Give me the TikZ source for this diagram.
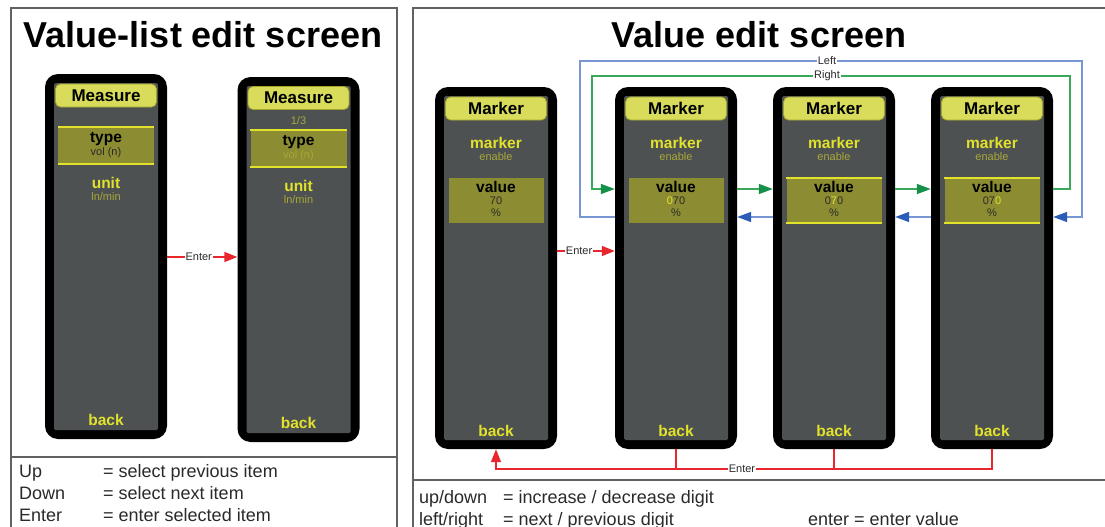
\documentclass[tikz,border=0pt]{standalone}
\usepackage{fontspec}
\setmainfont{Liberation Sans}
\usetikzlibrary{arrows.meta,calc}
\definecolor{scr}{HTML}{4D5152}
\definecolor{hdr}{HTML}{D8DC5A}
\definecolor{hdrline}{HTML}{A3A52A}
\definecolor{selc}{HTML}{8C8C32}
\definecolor{ylw}{HTML}{E2E22C}
\definecolor{olv}{HTML}{A8A838}
\definecolor{redc}{HTML}{E8262E}
\definecolor{grnl}{HTML}{3AA85A}
\definecolor{grnh}{HTML}{15904A}
\definecolor{blul}{HTML}{7896D4}
\definecolor{bluh}{HTML}{2A5CB8}
\definecolor{framec}{HTML}{5F6163}
\definecolor{txt}{HTML}{2A2A2A}
\newcommand\fs[1]{\fontsize{#1}{#1}\selectfont}
\tikzset{
  phone/.style={fill=black, draw=none, rounded corners=13pt, minimum width=122pt, inner sep=0pt},
  screen/.style={fill=scr, draw=none, rounded corners=1.5pt, minimum width=104pt, inner sep=0pt},
  hdrbox/.style={fill=hdr, draw=hdrline, line width=0.8pt, rounded corners=5pt, minimum width=101pt, minimum height=23pt, inner sep=0pt, font=\fs{17}\bfseries, text=black},
  selbox/.style={fill=selc, draw=none, inner sep=0pt},
  selline/.style={draw=ylw, line width=1.6pt},
  itemt/.style={font=\fs{15.5}\bfseries, text=black, inner sep=0pt},
  subt/.style={font=\fs{11}, text=txt, inner sep=0pt},
  lbl/.style={font=\fs{11}, text=txt, fill=white, inner sep=1pt},
  legend/.style={font=\fs{18}, text=txt, inner sep=0pt, anchor=base west},
  titlet/.style={font=\fs{36}\bfseries, text=black, inner sep=0pt, anchor=base},
  framel/.style={draw=framec, line width=2pt},
  enter/.style={draw=redc, line width=1.5pt, -{Triangle[length=13pt,width=10pt,fill=redc]}},
  enterline/.style={draw=redc, line width=1.5pt},
  rgt/.style={draw=grnl, line width=1.5pt, -{Triangle[length=14pt,width=10pt,fill=grnh,color=grnh]}},
  lft/.style={draw=blul, line width=1.5pt, -{Triangle[length=14pt,width=10pt,fill=bluh,color=bluh]}},
}
\newcommand\rphone[4]{%
  \node[phone, minimum height=362pt] (#1) at (#2,268) {};
  \node[screen, minimum height=344pt] (#1s) at (#1) {};
  \node[hdrbox] (#1h) at (#2,108.5) {Marker};
  \node[itemt, text=ylw] (#1m) at (#2,143) {marker};
  \node[subt, text=olv] (#1e) at (#2,157) {enable};
  \node[selbox, minimum width=95pt, minimum height=45pt] (#1v) at (#2,200.5) {};
  #4
  \node[itemt] (#1vt) at (#2,187) {value};
  \node[subt] (#1d) at (#2,200.5) {#3};
  \node[subt] (#1p) at (#2,213) {\%};
  \node[itemt, text=ylw] (#1b) at (#2,431) {back};
}
\newcommand\vlines[1]{%
  \draw[selline] (#1v.north west) -- (#1v.north east);
  \draw[selline] (#1v.south west) -- (#1v.south east);
}
\begin{document}
\begin{tikzpicture}[x=1pt,y=-1pt]
\useasboundingbox (0,0) rectangle (1105,527);
\fill[white] (0,0) rectangle (1105,527);

% frames
\draw[framel] (11,527) |- (397,8) -- (397,527);
\draw[framel] (11,457) -- (397,457);
\draw[framel] (413,527) |- (1105,8);
\draw[framel] (413,480) -- (1105,480);

% titles
\node[titlet] (t1) at (203,48) {Value-list edit screen};
\node[titlet] (t2) at (759,48) {Value edit screen};

% ---------- left: value-list edit screen
\node[phone, minimum height=365pt] (m1) at (106,256.5) {};
\node[screen, minimum height=347pt] (m1s) at (m1) {};
\node[hdrbox] (m1h) at (106,95.5) {Measure};
\node[selbox, minimum width=96pt, minimum height=37pt] (m1v) at (106,145.5) {};
\vlines{m1}
\node[itemt] (m1t) at (106,139) {type};
\node[subt] (m1tv) at (106,153) {vol (n)};
\node[itemt, text=ylw] (m1u) at (106,183) {unit};
\node[subt, text=olv] (m1uv) at (106,197) {ln/min};
\node[itemt, text=ylw] (m1b) at (106,420) {back};

\node[phone, minimum height=365pt] (m2) at (298.5,259.5) {};
\node[screen, minimum height=347pt] (m2s) at (m2) {};
\node[hdrbox] (m2h) at (298.5,98) {Measure};
\node[subt, text=olv] (m2n) at (298.5,121) {1/3};
\node[selbox, minimum width=96pt, minimum height=37pt] (m2v) at (298.5,148.5) {};
\vlines{m2}
\node[itemt] (m2t) at (298.5,142) {type};
\node[subt, text=olv] (m2tv) at (298.5,156) {vol (n)};
\node[itemt, text=ylw] (m2u) at (298.5,186) {unit};
\node[subt, text=olv] (m2uv) at (298.5,200) {ln/min};
\node[itemt, text=ylw] (m2b) at (298.5,423) {back};

\coordinate (ly) at (0,257);
\draw[enter] (m1.east |- ly) -- (m2.west |- ly) node[lbl, pos=0.45] (el1) {Enter};

\node[legend] (u1) at (19,477) {Up};
\node[legend] (u2) at (103,477) {= select previous item};
\node[legend] (d1) at (19,499) {Down};
\node[legend] (d2) at (103,499) {= select next item};
\node[legend] (e1) at (19,521) {Enter};
\node[legend] (e2) at (103,521) {= enter selected item};

% ---------- right: value edit screen
\rphone{pA}{496}{70}{}
\rphone{pB}{676}{{\color{ylw}0}70}{}
\rphone{pC}{834}{0{\color{ylw}7}0}{\vlines{pC}}
\rphone{pD}{992}{07{\color{ylw}0}}{\vlines{pD}}

\coordinate (gy) at (0,189);
\coordinate (by) at (0,217);
\coordinate (ey) at (0,251);
\coordinate (gtr) at (1070,76);
\coordinate (gtl) at (592,76);
\coordinate (btl) at (580,61);
\coordinate (btr) at (1082,61);

% Right (green)
\draw[rgt] (pD.east |- gy) -| (gtr) -- (gtl) |- (pB.west |- gy);
\draw[rgt] (pB.east |- gy) -- (pC.west |- gy);
\draw[rgt] (pC.east |- gy) -- (pD.west |- gy);
% Left (blue)
\draw[lft] (pB.west |- by) -| (btl) -- (btr) |- (pD.east |- by);
\draw[lft] (pC.west |- by) -- (pB.east |- by);
\draw[lft] (pD.west |- by) -- (pC.east |- by);
\node[lbl] (lleft) at (827,61) {Left};
\node[lbl] (lright) at (827,76) {Right};

% Enter (red)
\draw[enter] (pA.east |- ey) -- (pB.west |- ey) node[lbl, pos=0.38] (el2) {Enter};
\draw[enter] (pD.south) -- ++(0,20) -| (pA.south);
\draw[enterline] (pB.south) -- ++(0,20);
\draw[enterline] (pC.south) -- ++(0,20);
\node[lbl] (el3) at (742,469) {Enter};

\node[legend] (r1) at (419,503) {up/down};
\node[legend] (r2) at (503,503) {= increase / decrease digit};
\node[legend] (r3) at (419,525) {left/right};
\node[legend] (r4) at (503,525) {= next / previous digit};
\node[legend] (r5) at (808,525) {enter = enter value};
\end{tikzpicture}
\end{document}
